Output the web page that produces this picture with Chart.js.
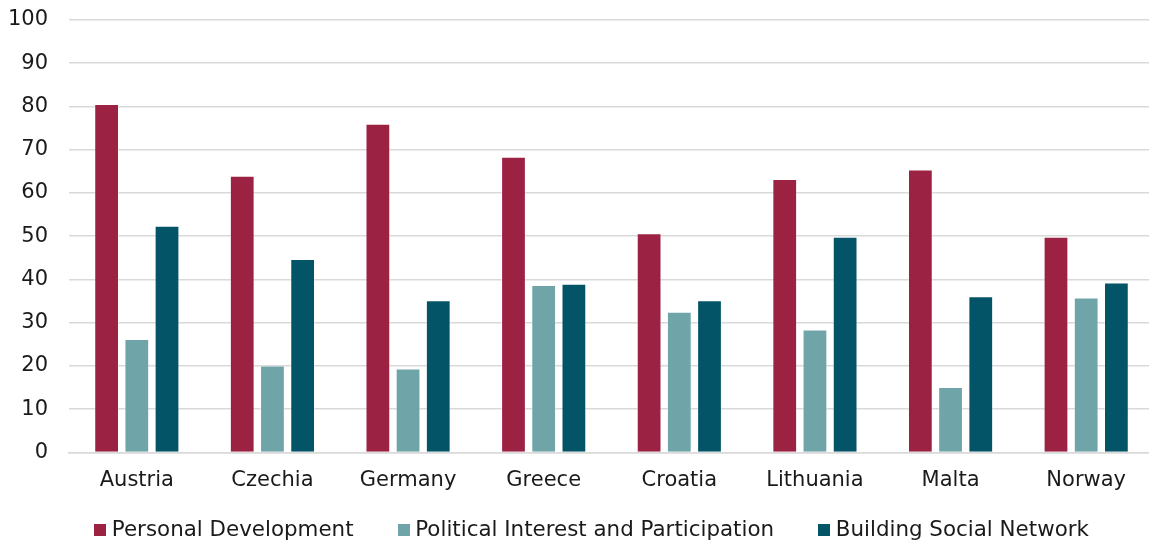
<!DOCTYPE html>
<html>
<head>
<meta charset="utf-8">
<script src="https://cdn.jsdelivr.net/npm/chart.js@4/dist/chart.umd.min.js"></script>
<style>
  html, body { margin: 0; padding: 0; background: #fff; overflow: hidden; }
  #wrap { width: 1154px; height: 543px; }
</style>
</head>
<body>
<div id="wrap"><canvas id="chart"></canvas></div>
<script>
const countries = ["Austria", "Czechia", "Germany", "Greece", "Croatia", "Lithuania", "Malta", "Norway"];
const personalDevelopment = [80.6, 64.0, 76.0, 68.4, 50.7, 63.2, 65.4, 49.9];
const politicalInterest = [26.2, 20.1, 19.4, 38.7, 32.5, 28.4, 15.1, 35.8];
const socialNetwork = [52.4, 44.7, 35.2, 39.0, 35.2, 49.9, 36.1, 39.3];
const yTicks = [0, 10, 20, 30, 40, 50, 60, 70, 80, 90, 100];

const colors = ['#9c2243', '#6fa5a8', '#045468'];
const font = "'DejaVu Sans', Verdana, sans-serif";

function series(label, data, color) {
  return {
    label: label,
    data: data,
    backgroundColor: color,
    borderColor: 'rgba(255,255,255,0.35)',
    borderWidth: 1,
    categoryPercentage: 0.668,
    barPercentage: 0.82
  };
}

// small square swatches for the legend, so the text sits close to the box
function swatch(color) {
  const c = document.createElement('canvas');
  c.width = 12; c.height = 12;
  const g = c.getContext('2d');
  g.fillStyle = color;
  g.fillRect(0, 0, 12, 12);
  return c;
}
const swatches = colors.map(swatch);

// nudge the legend up towards the axis labels and a bit to the right
const legendShift = {
  id: 'legendShift',
  afterLayout(chart) {
    const lg = chart.legend;
    lg.left += 13; lg.right += 13;
    lg.top -= 31; lg.bottom -= 31;
  }
};

const ctx = document.getElementById('chart').getContext('2d');
new Chart(ctx, {
  type: 'bar',
  data: {
    labels: countries,
    datasets: [
      series('Personal Development', personalDevelopment, colors[0]),
      series('Political Interest and Participation', politicalInterest, colors[1]),
      series('Building Social Network', socialNetwork, colors[2])
    ]
  },
  plugins: [legendShift],
  options: {
    responsive: true,
    maintainAspectRatio: false,
    animation: false,
    layout: { padding: { top: 20, left: 8, right: 0, bottom: -39 } },
    scales: {
      x: {
        grid: { display: false },
        border: { display: true, color: '#d9d9d9', width: 1.5 },
        ticks: { color: '#1a1a1a', font: { family: font, size: 21 }, padding: 8 }
      },
      y: {
        min: 0,
        max: 100,
        afterBuildTicks: axis => { axis.ticks = yTicks.map(v => ({ value: v })); },
        afterFit: axis => { axis.width = 61; },
        grid: { color: '#d9d9d9', lineWidth: 1.5, drawTicks: true, tickLength: 21, tickColor: 'rgba(0,0,0,0)' },
        border: { display: false },
        ticks: { color: '#1a1a1a', font: { family: font, size: 21 }, padding: 0 }
      }
    },
    plugins: {
      tooltip: { enabled: false },
      legend: {
        position: 'bottom',
        labels: {
          color: '#1a1a1a',
          font: { family: font, size: 21.4 },
          usePointStyle: true,
          pointStyleWidth: 2,
          padding: 49,
          generateLabels(chart) {
            const items = Chart.defaults.plugins.legend.labels.generateLabels(chart);
            items.forEach((it, i) => { it.pointStyle = swatches[i]; });
            return items;
          }
        }
      }
    }
  }
});
</script>
</body>
</html>
